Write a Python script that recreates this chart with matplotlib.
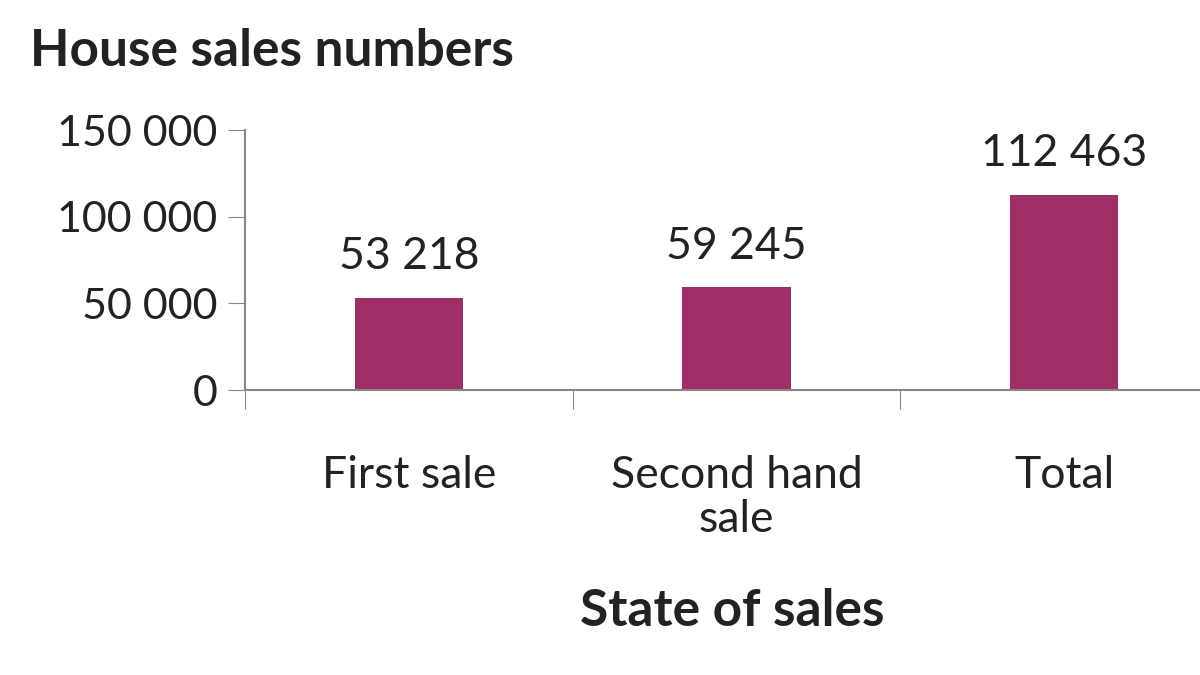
import matplotlib
matplotlib.use("Agg")
import matplotlib.pyplot as plt

categories = ["First sale", "Second hand\nsale", "Total"]
values = [53218, 59245, 112463]
yticks = [0, 50000, 100000, 150000]

def fmt(v):
    return f"{v:,}".replace(",", " ")

plt.rcParams['font.family'] = ['Lato', 'DejaVu Sans']
fig = plt.figure(figsize=(12, 6.75), dpi=100)
ax = fig.add_axes([245/1200, (675-390)/675, (1228-245)/1200, (390-130)/675])
x = range(len(categories))
ax.bar(x, values, width=0.33, color="#9E2F68")
for xi, v in zip(x, values):
    ax.text(xi, v + 12000, fmt(v), ha="center", va="bottom", fontsize=32, color="#222")
ax.set_xlim(-0.5, 2.5)
ax.set_ylim(0, 150000)
ax.set_yticks(yticks)
ax.set_yticklabels([fmt(t) for t in yticks], fontsize=31, color="#222")
ax.set_xticks([-0.5, 0.5, 1.5, 2.5])
ax.set_xticklabels([])
ax.tick_params(axis="x", length=14, color="#888", direction="out")
ax.tick_params(axis="y", length=12, color="#888", direction="out", pad=8)
for i, c in enumerate(categories):
    ax.text(i, -0.25, c, transform=ax.get_xaxis_transform(), ha="center", va="top",
            fontsize=32, color="#222", linespacing=1.1)
for s in ["top", "right"]:
    ax.spines[s].set_visible(False)
ax.spines["left"].set_color("#888")
ax.spines["bottom"].set_color("#888")
ax.spines["left"].set_linewidth(1.5)
ax.spines["bottom"].set_linewidth(1.5)
fig.text(30/1200, 1-52/675, "House sales numbers", fontsize=37, fontweight="bold", va="center", color="#222")
fig.text(732/1200, 1-612/675, "State of sales", fontsize=37, fontweight="bold", ha="center", va="center", color="#222")
fig.savefig("out.png", dpi=100)
